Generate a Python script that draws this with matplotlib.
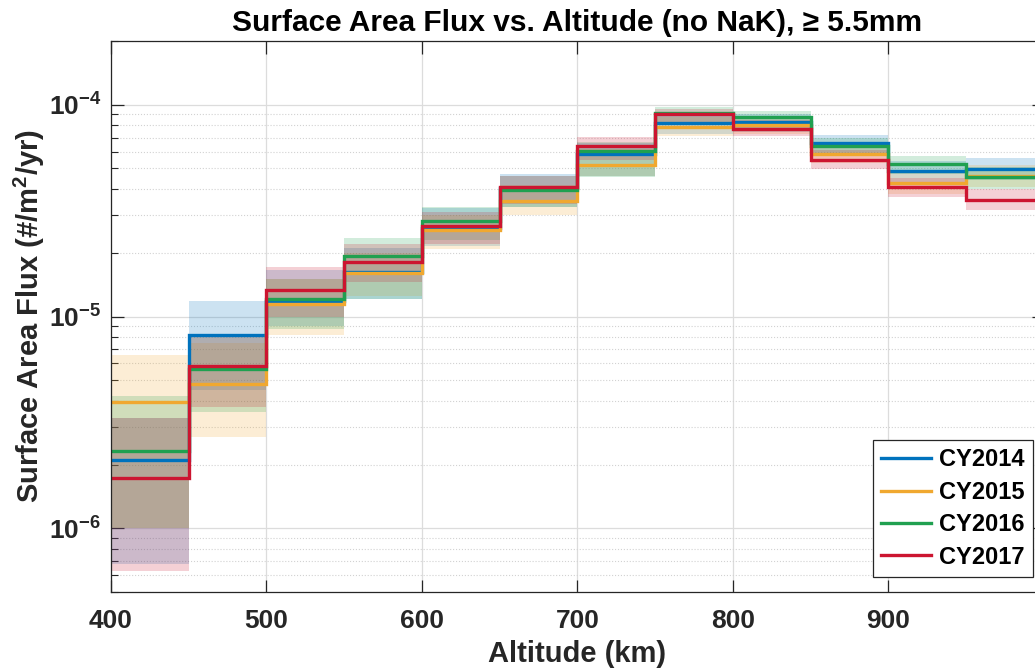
import matplotlib
matplotlib.use('Agg')
import matplotlib.pyplot as plt

# fuentes: Arial-like en negrita
plt.rcParams['font.family'] = ['Liberation Sans', 'DejaVu Sans']
plt.rcParams['font.weight'] = 'bold'
plt.rcParams['axes.titleweight'] = 'bold'
plt.rcParams['axes.labelweight'] = 'bold'
plt.rcParams['mathtext.fontset'] = 'custom'
plt.rcParams['mathtext.rm'] = 'Liberation Sans:bold'
plt.rcParams['mathtext.bf'] = 'Liberation Sans:bold'
plt.rcParams['mathtext.it'] = 'Liberation Sans:bold'

# bordes de los bins de altitud (km)
edges = [400, 450, 500, 550, 600, 650, 700, 750, 800, 850, 900, 950, 1000]

years = ['CY2014', 'CY2015', 'CY2016', 'CY2017']
colors = ['#0072BD', '#F0A830', '#20A050', '#CC1530']

flux_2014 = [2.09e-6, 8.22e-6, 1.18e-5, 1.62e-5, 2.62e-5, 4.05e-5, 5.87e-5, 8.2e-5, 8.3e-5, 6.57e-5, 4.85e-5, 4.99e-5]
flux_2015 = [3.93e-6, 4.81e-6, 1.14e-5, 1.60e-5, 2.55e-5, 3.50e-5, 5.20e-5, 7.82e-5, 8.0e-5, 5.87e-5, 4.27e-5, 4.60e-5]
flux_2016 = [2.31e-6, 5.66e-6, 1.21e-5, 1.94e-5, 2.84e-5, 3.97e-5, 6.07e-5, 9.15e-5, 8.71e-5, 6.36e-5, 5.25e-5, 4.56e-5]
flux_2017 = [1.72e-6, 5.83e-6, 1.34e-5, 1.80e-5, 2.69e-5, 4.09e-5, 6.36e-5, 9.04e-5, 7.68e-5, 5.50e-5, 4.07e-5, 3.56e-5]

lo_2014 = [6.8e-7, 4.5e-6, 9.0e-6, 1.21e-5, 2.15e-5, 3.3e-5, 4.6e-5, 7.3e-5, 7.4e-5, 5.8e-5, 4.3e-5, 4.4e-5]
hi_2014 = [3.3e-6, 1.19e-5, 1.65e-5, 2.1e-5, 3.25e-5, 4.73e-5, 6.6e-5, 9.2e-5, 9.0e-5, 7.22e-5, 5.4e-5, 5.6e-5]
lo_2015 = [1.0e-6, 2.7e-6, 8.2e-6, 1.25e-5, 2.09e-5, 3.03e-5, 4.6e-5, 7.09e-5, 7.3e-5, 5.3e-5, 3.8e-5, 4.1e-5]
hi_2015 = [6.55e-6, 7.5e-6, 1.5e-5, 2.0e-5, 3.0e-5, 4.2e-5, 6.2e-5, 8.8e-5, 8.8e-5, 6.5e-5, 4.8e-5, 5.2e-5]
lo_2016 = [1.0e-6, 3.54e-6, 8.7e-6, 1.21e-5, 2.3e-5, 3.3e-5, 4.54e-5, 8.2e-5, 7.8e-5, 5.7e-5, 4.7e-5, 4.0e-5]
hi_2016 = [4.2e-6, 8.0e-6, 1.5e-5, 2.35e-5, 3.29e-5, 4.6e-5, 6.7e-5, 9.75e-5, 9.37e-5, 7.0e-5, 5.75e-5, 5.1e-5]
lo_2017 = [6.27e-7, 3.73e-6, 1.0e-5, 1.45e-5, 2.2e-5, 3.4e-5, 5.5e-5, 8.0e-5, 7.09e-5, 4.97e-5, 3.67e-5, 3.2e-5]
hi_2017 = [3.3e-6, 8.0e-6, 1.72e-5, 2.2e-5, 3.1e-5, 4.6e-5, 7.04e-5, 9.6e-5, 8.5e-5, 6.1e-5, 4.5e-5, 4.0e-5]

fluxes = [flux_2014, flux_2015, flux_2016, flux_2017]
lows = [lo_2014, lo_2015, lo_2016, lo_2017]
highs = [hi_2014, hi_2015, hi_2016, hi_2017]

xticks = [400, 500, 600, 700, 800, 900]
yticks = [1e-6, 1e-5, 1e-4]
ytick_labels = ['$10^{-6}$', '$10^{-5}$', '$10^{-4}$']

fig = plt.figure(figsize=(10.35, 6.7), dpi=100)
# el eje derecho queda un poco afuera de la imagen, como en el original
ax = fig.add_axes([0.107, 0.1164, 0.9017, 0.8224])

# bandas de error y luego las lineas escalonadas
for lo, hi, c in zip(lows, highs, colors):
    ax.stairs(hi, edges, baseline=lo, fill=True, color=c, alpha=0.2, lw=0)
for f, c, name in zip(fluxes, colors, years):
    ax.stairs(f, edges, baseline=None, color=c, lw=2.4, label=name)

ax.set_yscale('log')
ax.set_xlim(400, 1000)
ax.set_ylim(5e-7, 2e-4)
ax.set_xticks(xticks)
ax.set_yticks(yticks, labels=ytick_labels)

ax.set_axisbelow(True)
ax.grid(which='major', color='#dcdcdc', lw=0.9)
ax.yaxis.grid(which='minor', color='#d2d2d2', lw=0.8, ls=':')

ax.tick_params(which='both', direction='in', top=True, right=True,
               colors='#262626', labelsize=19)
ax.tick_params(which='major', length=9, width=0.9)
ax.tick_params(which='minor', length=5, width=0.8)
ax.tick_params(axis='x', pad=12)
ax.tick_params(axis='y', pad=7)
for s in ax.spines.values():
    s.set_color('#262626')
    s.set_linewidth(0.9)

ax.set_xlabel('Altitude (km)', fontsize=21, color='#262626', labelpad=5)
ax.set_ylabel('Surface Area Flux (#/m$^2$/yr)', fontsize=21, color='#262626', labelpad=1)
ax.set_title('Surface Area Flux vs. Altitude (no NaK), \u2265 5.5mm', fontsize=21.5, pad=7)

leg = ax.legend(loc='lower right', bbox_to_anchor=(1033 / 1035, 93 / 670),
                bbox_transform=fig.transFigure, borderaxespad=0,
                fontsize=17, fancybox=False, framealpha=1, edgecolor='#262626',
                handlelength=2.1, handletextpad=0.35, labelspacing=0.4, borderpad=0.35)
leg.get_frame().set_linewidth(0.9)

plt.savefig('out.png', dpi=100)
